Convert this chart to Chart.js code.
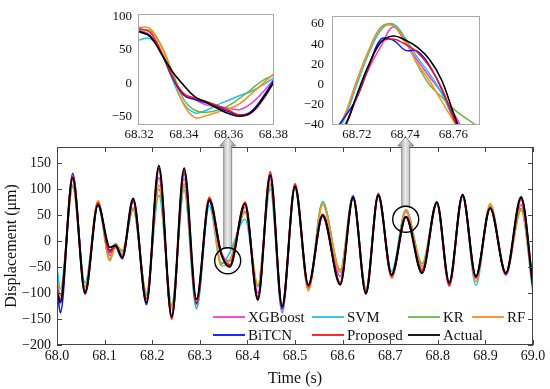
<!DOCTYPE html>
<html><head><meta charset="utf-8">
<script src="https://cdn.jsdelivr.net/npm/chart.js@4/dist/chart.umd.min.js"></script>
<style>
html,body{margin:0;padding:0;background:#fff;}
#wrap{position:relative;width:550px;height:389px;overflow:hidden;background:#fff;}
canvas{position:absolute;}
</style></head><body>
<div id="wrap">
<canvas id="main" width="550" height="389" style="left:0;top:0;width:550px;height:389px"></canvas>
<canvas id="in1" width="198" height="145" style="left:92px;top:0;width:198px;height:145px"></canvas>
<canvas id="in2" width="200" height="145" style="left:290px;top:0;width:200px;height:145px"></canvas>
</div>
<script>
// ---------- DATA ----------
const seriesNames = ['XGBoost','SVM','KR','RF','BiTCN','Proposed','Actual'];
const seriesColors = ['#f23ad8','#22c3e6','#6ab84a','#ff8c1e','#0a10ff','#ff1414','#000000'];

const mainTime = [68.000,68.007,68.033,68.059,68.086,68.111,68.123,68.137,68.160,68.188,68.214,68.241,68.267,68.293,68.320,68.345,68.363,68.395,68.422,68.448,68.473,68.500,68.528,68.558,68.595,68.622,68.649,68.675,68.703,68.733,68.767,68.798,68.824,68.852,68.880,68.910,68.943,68.975,69.000];
const mainXGBoost  = [-90,-112,118,-95,72,-28,-12,-35,75,-110,122,-142,120,-128,80,-22,-38,65,-100,118,-138,104,-90,52,-68,82,-96,90,-68,57,-55,73,-84,87,-72,66,-66,70,-90];
const mainSVM      = [-50,-92,105,-80,68,-35,-12,-25,60,-100,88,-122,98,-130,68,-45,-22,42,-88,100,-135,100,-92,76,-60,86,-92,88,-58,60,-48,74,-80,89,-85,68,-62,60,-100];
const mainKR       = [-75,-105,108,-88,74,-38,-5,-20,62,-105,100,-125,105,-122,80,-42,-36,55,-85,108,-125,102,-90,74,-55,88,-92,90,-64,60,-43,74,-78,88,-70,68,-60,63,-92];
const mainRF       = [-80,-105,104,-90,78,-36,-8,-18,64,-102,108,-130,110,-118,85,-48,-38,58,-85,110,-122,108,-96,70,-60,84,-96,93,-72,59,-50,73,-82,90,-78,72,-62,60,-90];
const mainBiTCN    = [-85,-138,130,-98,70,-18,-10,-32,78,-122,140,-148,130,-120,77,-25,-46,72,-108,125,-130,106,-86,49,-82,86,-102,90,-66,47,-60,74,-82,90,-68,64,-63,82,-85];
const mainProposed = [-95,-115,125,-102,74,-22,-10,-30,80,-112,138,-150,135,-118,83,-22,-47,75,-110,133,-128,110,-88,47,-80,82,-98,86,-68,46,-58,72,-86,86,-70,64,-62,80,-90];
const mainActual   = [-98,-118,122,-100,70,-12,-8,-32,82,-118,145,-145,140,-112,79,-25,-50,72,-113,127,-126,105,-84,50,-84,84,-100,88,-65,47,-62,75,-80,88,-68,63,-62,85,-88];
const mainXTicks = [68.0,68.1,68.2,68.3,68.4,68.5,68.6,68.7,68.8,68.9,69.0];
const mainYTicks = [-200,-150,-100,-50,0,50,100,150];

const in1Time = [68.320,68.325,68.330,68.335,68.340,68.345,68.350,68.355,68.360,68.365,68.370,68.375,68.380];
const in1XGBoost  = [80,72,45,8,-18,-24,-32,-34,-37,-39,-30,-14,5];
const in1SVM      = [65,67,45,5,-30,-44,-40,-32,-25,-18,-12,-3,8];
const in1KR       = [80,79,56,16,-24,-40,-43,-40,-33,-22,-9,4,12];
const in1RF       = [84,82,55,12,-32,-51,-48,-43,-38,-30,-16,-1,14];
const in1BiTCN    = [77,70,45,8,-17,-24,-29,-35,-42,-47,-42,-22,4];
const in1Proposed = [82,76,47,10,-15,-22,-27,-33,-40,-47,-44,-26,0];
const in1Actual   = [78,70,44,17,-3,-20,-28,-37,-45,-49,-44,-24,1];
const in1XTicks = [68.32,68.34,68.36,68.38];
const in1YTicks = [-50,0,50,100];

const in2Time = [68.710,68.715,68.720,68.725,68.730,68.735,68.740,68.745,68.750,68.755,68.760,68.765,68.770];
const in2XGBoost  = [-56,-40,-12,16,38,57,42,24,8,-8,-28,-48,-64];
const in2SVM      = [-54,-33,0,31,54,60,46,27,11,-8,-34,-55,-72];
const in2KR       = [-52,-30,4,34,57,59,44,20,0,-12,-24,-33,-41];
const in2RF       = [-52,-30,4,34,56,58,43,21,4,-16,-36,-56,-72];
const in2BiTCN    = [-48,-32,-13,18,45,44,34,33,19,-4,-32,-60,-80];
const in2Proposed = [-58,-42,-12,18,42,45,40,32,18,-3,-33,-62,-82];
const in2Actual   = [-58,-42,-10,20,42,48,44,37,25,5,-28,-58,-80];
const in2XTicks = [68.72,68.74,68.76];
const in2YTicks = [-40,-20,0,20,40,60];

// ---------- HELPERS ----------
const SERIF = "'Liberation Serif','Times New Roman',serif";
const fmtNum = (v, d) => (v < 0 ? '\u2212' : '') + Math.abs(v).toFixed(d);

function buildDatasets(time, lists, widths, tension) {
  return lists.map((vals, i) => ({
    label: seriesNames[i],
    data: time.map((t, k) => ({x: t, y: vals[k]})),
    borderColor: seriesColors[i],
    backgroundColor: seriesColors[i],
    borderWidth: widths[i],
    pointRadius: 0,
    fill: false,
    order: lists.length - i,
    cubicInterpolationMode: tension ? 'default' : 'monotone',
    tension: tension || 0
  }));
}

const boxPlugin = {
  id: 'boxTicks',
  afterDatasetsDraw(chart, args, o) {
    const {ctx, chartArea: a, scales: {x, y}} = chart;
    ctx.save();
    ctx.strokeStyle = o.color; ctx.lineWidth = 1;
    ctx.strokeRect(Math.round(a.left) + 0.5, Math.round(a.top) + 0.5, Math.round(a.right - a.left) - 1, Math.round(a.bottom - a.top) - 1);
    if (o.tick > 0) {
      const L = o.tick;
      ctx.beginPath();
      x.ticks.forEach(t => {
        const p = Math.round(x.getPixelForValue(t.value)) + 0.5;
        ctx.moveTo(p, a.bottom); ctx.lineTo(p, a.bottom - L);
        ctx.moveTo(p, a.top); ctx.lineTo(p, a.top + L);
      });
      y.ticks.forEach(t => {
        const p = Math.round(y.getPixelForValue(t.value)) + 0.5;
        ctx.moveTo(a.left, p); ctx.lineTo(a.left + L, p);
        ctx.moveTo(a.right, p); ctx.lineTo(a.right - L, p);
      });
      ctx.stroke();
    }
    ctx.restore();
  }
};

const legendPlugin = {
  id: 'inLegend',
  afterDraw(chart, args, o) {
    if (!o.items) return;
    const ctx = chart.ctx;
    ctx.save();
    ctx.font = '15px ' + SERIF;
    ctx.textBaseline = 'middle';
    ctx.textAlign = 'left';
    o.items.forEach(it => {
      const ds = chart.data.datasets[it.index];
      ctx.strokeStyle = ds.borderColor; ctx.lineWidth = 1.8;
      ctx.beginPath(); ctx.moveTo(it.x, it.y); ctx.lineTo(it.x + 32, it.y); ctx.stroke();
      ctx.fillStyle = '#111';
      ctx.fillText(ds.label, it.x + 35, it.y + 1);
    });
    ctx.restore();
  }
};

const calloutPlugin = {
  id: 'callouts',
  afterDraw(chart, args, o) {
    if (!o.marks) return;
    const {ctx, scales: {x, y}} = chart;
    ctx.save();
    o.marks.forEach(m => {
      const cx = x.getPixelForValue(m.x), cy = y.getPixelForValue(m.y);
      const r = m.r;
      const sw = 4, hw = 8, base = m.headBase, tip = m.tip;
      const g = ctx.createLinearGradient(cx - hw, 0, cx + hw, 0);
      g.addColorStop(0, '#8c8c8c'); g.addColorStop(0.5, '#ececec'); g.addColorStop(1, '#8c8c8c');
      ctx.fillStyle = g; ctx.strokeStyle = '#7a7a7a'; ctx.lineWidth = 0.8;
      ctx.beginPath();
      ctx.moveTo(cx - sw, cy - r); ctx.lineTo(cx - sw, base); ctx.lineTo(cx - hw, base);
      ctx.lineTo(cx, tip); ctx.lineTo(cx + hw, base); ctx.lineTo(cx + sw, base); ctx.lineTo(cx + sw, cy - r);
      ctx.closePath(); ctx.fill(); ctx.stroke();
      ctx.strokeStyle = '#000'; ctx.lineWidth = 1.4;
      ctx.beginPath(); ctx.arc(cx, cy, r, 0, Math.PI * 2); ctx.stroke();
    });
    ctx.restore();
  }
};

function makeChart(id, cfg) {
  return new Chart(document.getElementById(id), {
    type: 'line',
    data: {datasets: cfg.datasets},
    options: {
      responsive: false, animation: false, devicePixelRatio: 1,
      layout: {padding: {left: 0, top: cfg.padTop, right: cfg.padRight, bottom: 0}},
      plugins: {
        legend: {display: false}, tooltip: {enabled: false},
        boxTicks: {color: cfg.boxColor, tick: cfg.tick},
        inLegend: {items: cfg.legend},
        callouts: {marks: cfg.marks}
      },
      scales: {
        x: {
          type: 'linear', min: cfg.xMin, max: cfg.xMax,
          afterBuildTicks: s => { s.ticks = cfg.xTicks.map(v => ({value: v})); },
          afterFit: s => { s.height = cfg.xH; },
          grid: {display: false, drawTicks: false}, border: {display: false},
          ticks: {padding: cfg.xPad, color: '#111', maxRotation: 0, autoSkip: false,
                  font: {family: SERIF, size: cfg.tickSize}, callback: v => fmtNum(v, cfg.xDec)},
          title: cfg.xTitle ? {display: true, text: cfg.xTitle, color: '#111', padding: {top: 0, bottom: 1},
                  font: {family: SERIF, size: 16}} : {display: false}
        },
        y: {
          type: 'linear', min: cfg.yMin, max: cfg.yMax,
          afterBuildTicks: s => { s.ticks = cfg.yTicks.map(v => ({value: v})); },
          afterFit: s => { s.width = cfg.yW; },
          grid: {display: false, drawTicks: false}, border: {display: false},
          ticks: {padding: cfg.yPad, color: '#111', autoSkip: false,
                  font: {family: SERIF, size: cfg.tickSize}, callback: v => fmtNum(v, 0)},
          title: cfg.yTitle ? {display: true, text: cfg.yTitle, color: '#111', padding: {top: 2, bottom: 0},
                  font: {family: SERIF, size: 16}} : {display: false}
        }
      }
    },
    plugins: [boxPlugin, legendPlugin, calloutPlugin]
  });
}

const mainW = [1.6, 1.6, 1.6, 1.6, 1.7, 1.8, 2.0];
makeChart('main', {
  datasets: buildDatasets(mainTime, [mainXGBoost, mainSVM, mainKR, mainRF, mainBiTCN, mainProposed, mainActual], mainW, 0),
  padTop: 147, padRight: 17, yW: 57, xH: 44,
  xMin: 68.0, xMax: 69.0, yMin: -200, yMax: 181,
  xTicks: mainXTicks, yTicks: mainYTicks, xDec: 1,
  xPad: 3, yPad: 6, tickSize: 14, boxColor: '#444', tick: 5,
  xTitle: 'Time (s)', yTitle: 'Displacement (\u03bcm)',
  legend: [
    {index: 0, x: 213, y: 317}, {index: 1, x: 312, y: 317}, {index: 2, x: 408, y: 317}, {index: 3, x: 472, y: 317},
    {index: 4, x: 213, y: 335}, {index: 5, x: 312, y: 335}, {index: 6, x: 408, y: 335}
  ],
  marks: [
    {x: 68.3586, y: -38, r: 13, headBase: 146, tip: 137},
    {x: 68.7326, y: 42, r: 13, headBase: 146, tip: 137}
  ]
});

const inW = [1.5, 1.5, 1.5, 1.5, 1.5, 1.5, 1.6];
makeChart('in1', {
  datasets: buildDatasets(in1Time, [in1XGBoost, in1SVM, in1KR, in1RF, in1BiTCN, in1Proposed, in1Actual], inW, 0.4),
  padTop: 8, padRight: 8, yW: 46, xH: 20,
  xMin: 68.3195, xMax: 68.3802, yMin: -62, yMax: 104,
  xTicks: in1XTicks, yTicks: in1YTicks, xDec: 2,
  xPad: 2, yPad: 6, tickSize: 13, boxColor: '#a8a8a8', tick: 0
});
makeChart('in2', {
  datasets: buildDatasets(in2Time, [in2XGBoost, in2SVM, in2KR, in2RF, in2BiTCN, in2Proposed, in2Actual], inW, 0.4),
  padTop: 9, padRight: 10, yW: 42, xH: 20,
  xMin: 68.7097, xMax: 68.771, yMin: -40, yMax: 68,
  xTicks: in2XTicks, yTicks: in2YTicks, xDec: 2,
  xPad: 2, yPad: 8, tickSize: 13, boxColor: '#a8a8a8', tick: 0
});
</script>
</body></html>
